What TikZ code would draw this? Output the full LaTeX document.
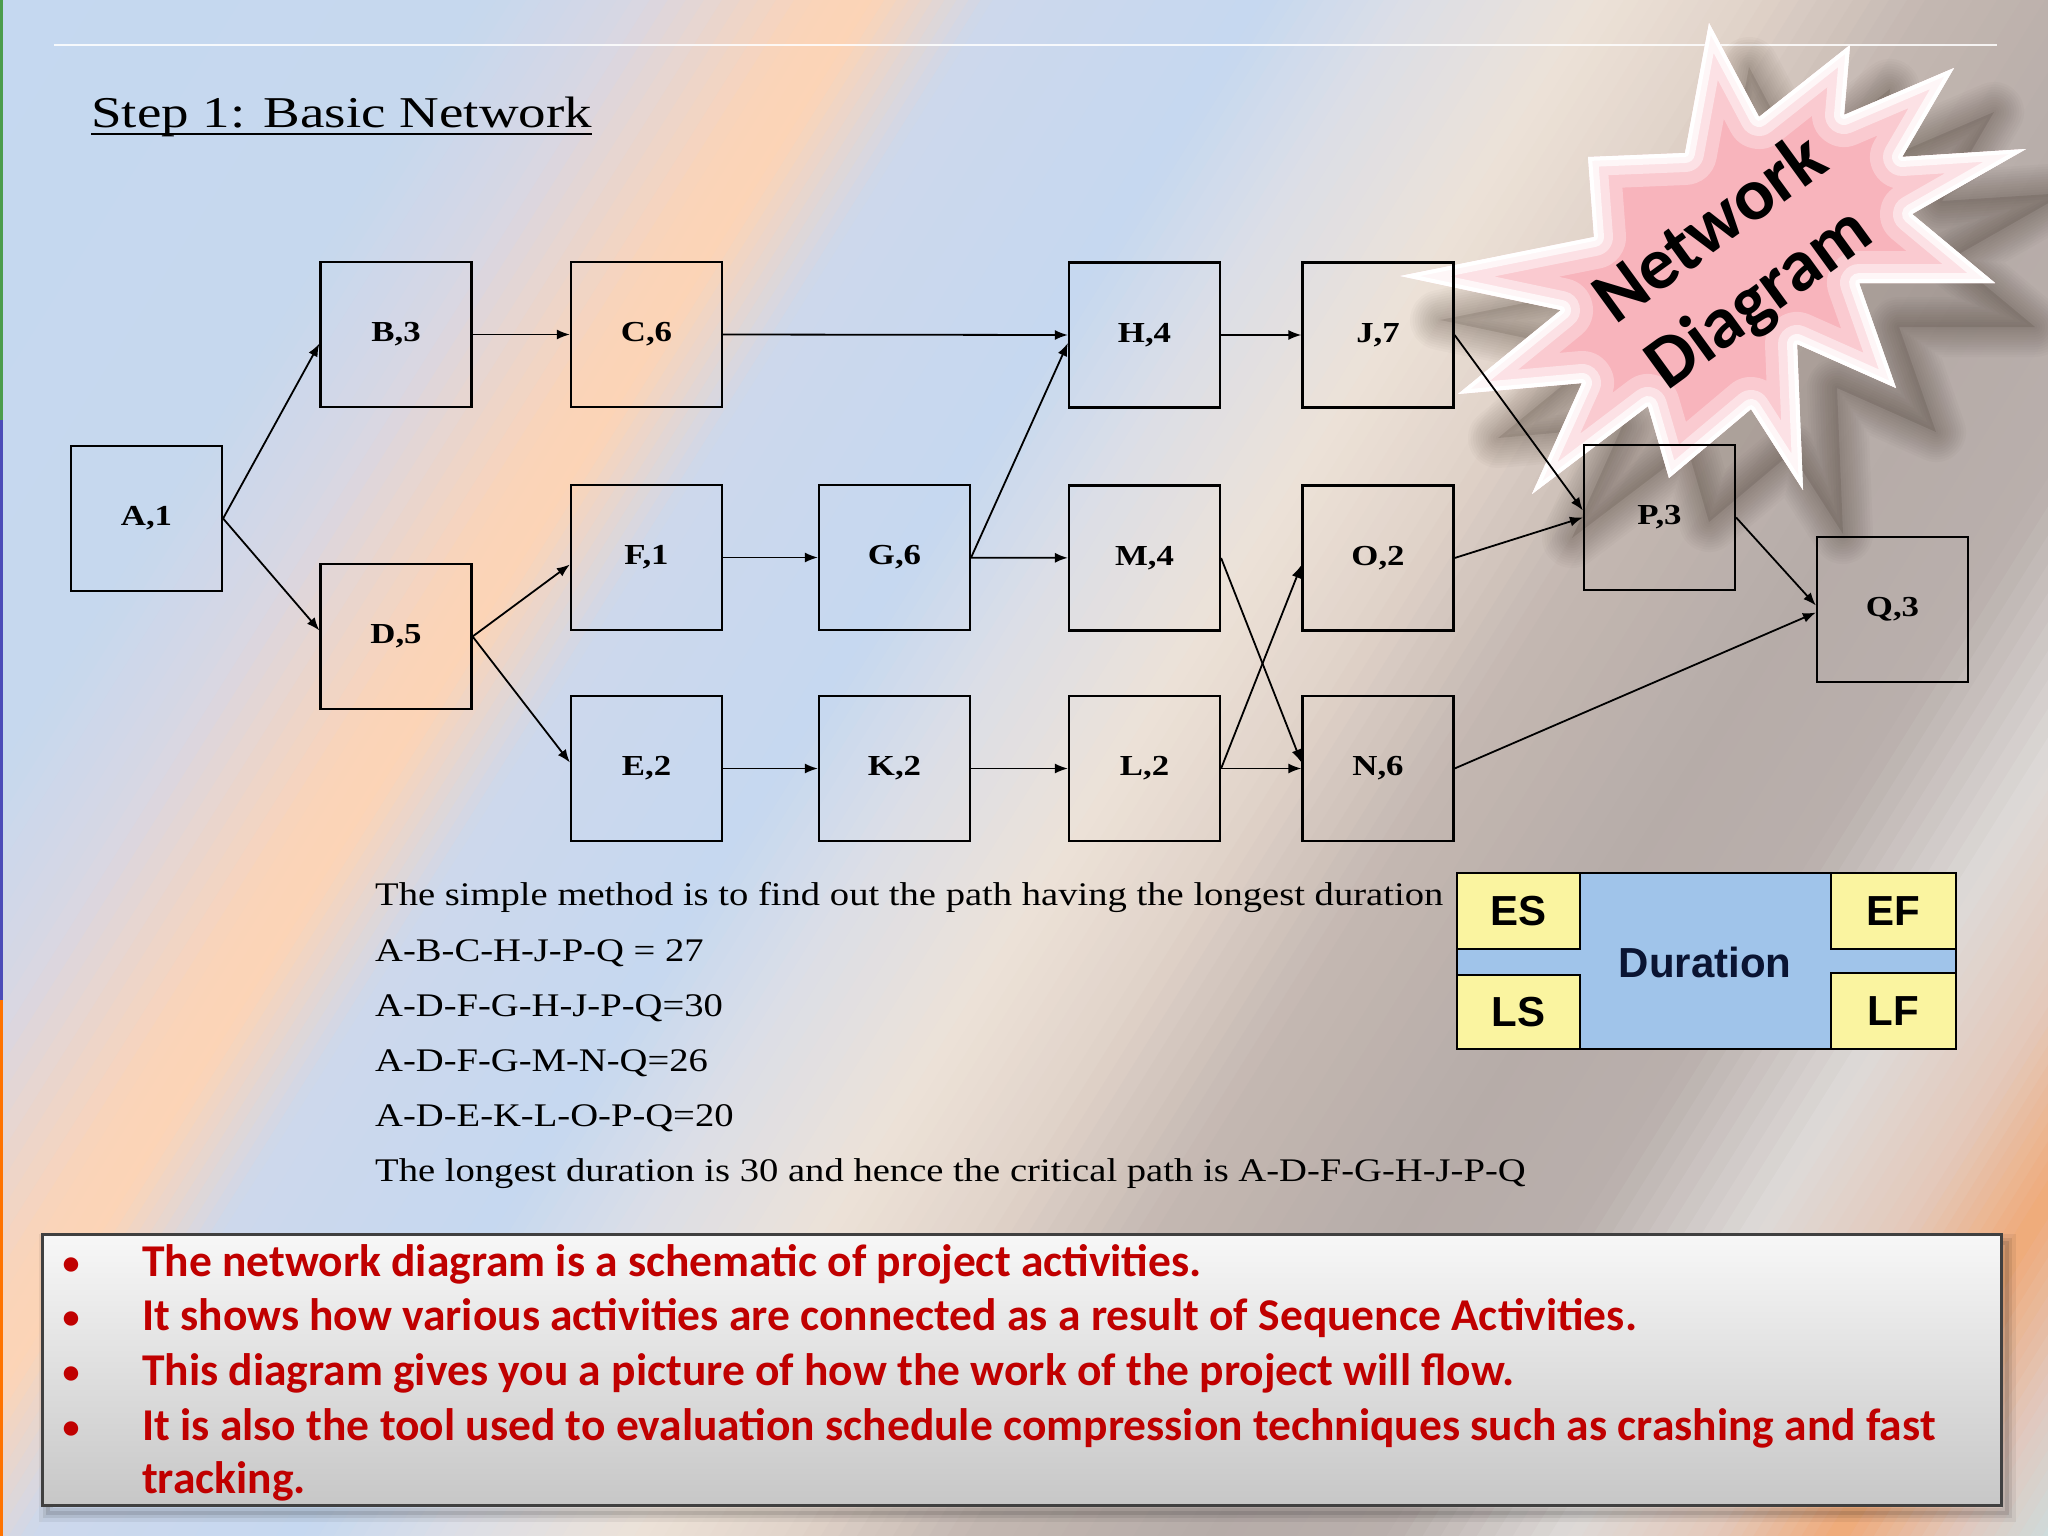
\documentclass[tikz,border=0pt]{standalone}
\usepackage{fontspec}
\setmainfont{Liberation Serif}
\newfontfamily\carl{Carlito}
\newfontfamily\lsans{Liberation Sans}
\usetikzlibrary{arrows.meta,calc}

\definecolor{s0}{RGB}{197,216,240}
\definecolor{s1}{RGB}{198,216,238}
\definecolor{s2}{RGB}{215,215,228}
\definecolor{s3}{RGB}{250,212,185}
\definecolor{s4}{RGB}{252,212,182}
\definecolor{s5}{RGB}{205,216,236}
\definecolor{s6}{RGB}{198,216,240}
\definecolor{s7}{RGB}{220,222,230}
\definecolor{s8}{RGB}{236,226,216}
\definecolor{s9}{RGB}{226,212,202}
\definecolor{s10}{RGB}{196,184,178}
\definecolor{s11}{RGB}{182,172,168}
\definecolor{s12}{RGB}{185,175,172}
\definecolor{s13}{RGB}{222,218,216}
\definecolor{s14}{RGB}{228,200,185}
\definecolor{s15}{RGB}{240,170,120}
\definecolor{s16}{RGB}{225,200,190}
\definecolor{s17}{RGB}{200,225,228}
\definecolor{starpink}{RGB}{248,180,188}
\definecolor{durblue}{RGB}{160,196,234}
\definecolor{duryel}{RGB}{250,244,160}
\definecolor{bulred}{RGB}{192,0,0}
\definecolor{durtxt}{RGB}{10,20,50}

\newcommand\bgseg[4]{%
 \foreach \k in {0,...,9}{%
  \pgfmathsetmacro\ta{(#1+(#2-#1)*\k/10)*2551}%
  \pgfmathsetmacro\tb{(#1+(#2-#1)*(\k+1)/10)*2551+4}%
  \pgfmathtruncatemacro\pc{100-10*\k-5}%
  \fill[#3!\pc!#4] ({\ta*0.848+1378},{\ta*0.53-2205}) -- ({\tb*0.848+1378},{\tb*0.53-2205}) -- ({\tb*0.848-1378},{\tb*0.53+2205}) -- ({\ta*0.848-1378},{\ta*0.53+2205}) -- cycle;
 }}

\newcommand\lbl[1]{\scalebox{1.2}[1]{#1}}
\newcommand\starshape{(1709,23) -- (1759,117) -- (1850,45) -- (1844,115) -- (1954,68) -- (1902,157) -- (2026,149) -- (1912,214) -- (1995,283) -- (1859,283) -- (1896,388) -- (1797,344) -- (1803,490) -- (1751,409) -- (1669,478) -- (1648,406) -- (1532,494) -- (1582,383) -- (1458,394) -- (1561,310) -- (1400,276) -- (1594,237) -- (1588,157) -- (1685,153) -- cycle}

\tikzset{
  box/.style={draw=black, line width=2.2pt, minimum width=151pt, minimum height=145pt, inner sep=0pt,
    font=\fontsize{29}{34}\selectfont\bfseries},
  arr/.style={line width=1.8pt, -{Latex[length=13pt,width=10pt]}},
  txtline/.style={anchor=base west, inner sep=0pt, font=\fontsize{33}{38}\selectfont},
  bul/.style={anchor=base west, inner sep=0pt, text=bulred, font=\carl\bfseries\fontsize{45.5}{54}\selectfont},
  bdot/.style={anchor=base, inner sep=0pt, text=bulred, font=\carl\bfseries\fontsize{34}{40}\selectfont},
  dcell/.style={draw=black, line width=2.5pt, fill=duryel},
  dtxt/.style={font=\lsans\bfseries\fontsize{42}{48}\selectfont, inner sep=0pt},
  startxt/.style={rotate=36, inner sep=0pt, font=\carl\bfseries\fontsize{74}{90}\selectfont}
}

\begin{document}
\begin{tikzpicture}[x=1pt,y=-1pt]
\useasboundingbox (0,0) rectangle (2048,1536);

% background
\begin{scope}
\clip (0,0) rectangle (2048,1536);
\fill[s0] (0,0) rectangle (2048,1536);
\bgseg{0.00}{0.16}{s0}{s1}
\bgseg{0.16}{0.21}{s1}{s2}
\bgseg{0.21}{0.27}{s2}{s3}
\bgseg{0.27}{0.29}{s3}{s4}
\bgseg{0.29}{0.33}{s4}{s5}
\bgseg{0.33}{0.42}{s5}{s6}
\bgseg{0.42}{0.47}{s6}{s7}
\bgseg{0.47}{0.53}{s7}{s8}
\bgseg{0.53}{0.58}{s8}{s9}
\bgseg{0.58}{0.64}{s9}{s10}
\bgseg{0.64}{0.72}{s10}{s11}
\bgseg{0.72}{0.78}{s11}{s12}
\bgseg{0.78}{0.84}{s12}{s13}
\bgseg{0.84}{0.89}{s13}{s14}
\bgseg{0.89}{0.93}{s14}{s15}
\bgseg{0.93}{0.97}{s15}{s16}
\bgseg{0.97}{1.01}{s16}{s17}
\fill[green!45!black!70] (0,0) rectangle (3,420);
\fill[blue!60!black!70] (0,420) rectangle (3,1000);
\fill[orange!90!red] (0,1000) rectangle (3,1536);
\end{scope}

% top rule
\draw[white, line width=2.5pt, opacity=0.85] (54,45) -- (1997,45);

% title
\node[anchor=base west, inner sep=0pt, font=\fontsize{44}{50}\selectfont] (title) at (91,128) {\scalebox{1.25}[1]{Step 1: Basic Network}};
\draw[line width=2.5pt] ($(title.base west)+(0,6)$) -- ($(title.base east)+(0,6)$);

% star shadow (soft, offset to lower right)
\begin{scope}[shift={(40,44)}]
\foreach \w in {60,55,50,45,40,35,30,25,20,15,10,5}{
  \draw[black!80!brown, opacity=0.022, line width=\w pt, line join=round] \starshape;
}
\fill[black!80!brown, opacity=0.12] \starshape;
\end{scope}
% star
\begin{scope}
\clip \starshape;
\fill[starpink] \starshape;
\draw[white, opacity=0.3, line width=64pt, line join=round] \starshape;
\draw[white, opacity=0.45, line width=38pt, line join=round] \starshape;
\draw[white, opacity=0.7, line width=20pt, line join=round] \starshape;
\draw[white, line width=8pt, line join=round] \starshape;
\end{scope}
\node[startxt] (st1) at (1708,226) {Network};
\node[startxt] (st2) at (1760,300) {Diagram};

% boxes
\node[box] (A) at (146.5,518.5) {\lbl{A,1}};
\node[box] (B) at (396,334.5) {\lbl{B,3}};
\node[box] (C) at (646.5,334.5) {\lbl{C,6}};
\node[box] (D) at (396,636.5) {\lbl{D,5}};
\node[box] (F) at (646.5,557.5) {\lbl{F,1}};
\node[box] (G) at (894.5,557.5) {\lbl{G,6}};
\node[box] (E) at (646.5,768.5) {\lbl{E,2}};
\node[box] (K) at (894.5,768.5) {\lbl{K,2}};
\node[box] (H) at (1144.5,335) {\lbl{H,4}};
\node[box] (J) at (1378,335) {\lbl{J,7}};
\node[box] (M) at (1144.5,558) {\lbl{M,4}};
\node[box] (O) at (1378,558) {\lbl{O,2}};
\node[box] (L) at (1144.5,768.5) {\lbl{L,2}};
\node[box] (N) at (1378,768.5) {\lbl{N,6}};
\node[box] (P) at (1659.5,517.5) {\lbl{P,3}};
\node[box] (Q) at (1892.5,609.5) {\lbl{Q,3}};

% connectors
\draw[arr] (A.east) -- ($(B.west)+(0,9)$);
\draw[arr] (A.east) -- ($(D.west)+(0,-6)$);
\draw[arr] (B) -- (C);
\draw[arr] (C.east) -- (H.west);
\draw[arr] (D.east) -- ($(F.west)+(0,7)$);
\draw[arr] (D.east) -- ($(E.west)+(0,-6)$);
\draw[arr] (F) -- (G);
\draw[arr] (G.east) -- ($(H.west)+(0,8)$);
\draw[arr] (G) -- (M);
\draw[arr] (E) -- (K);
\draw[arr] (K) -- (L);
\draw[arr] (H) -- (J);
\draw[arr] (J.east) -- ($(P.west)+(0,-7)$);
\draw[arr] (M.east) -- ($(N.west)+(0,-6)$);
\draw[arr] (L.east) -- ($(O.west)+(0,7)$);
\draw[arr] (L) -- (N);
\draw[arr] (O.east) -- (P.west);
\draw[arr] (P.east) -- ($(Q.west)+(0,-4)$);
\draw[arr] (N.east) -- ($(Q.west)+(0,3)$);

% explanation lines
\node[txtline] (t1) at (375,905) {\scalebox{1.17}[1]{The simple method is to find out the path having the longest duration}};
\node[txtline] (t2) at (375,961) {\scalebox{1.17}[1]{A-B-C-H-J-P-Q = 27}};
\node[txtline] (t3) at (375,1016) {\scalebox{1.17}[1]{A-D-F-G-H-J-P-Q=30}};
\node[txtline] (t4) at (375,1071) {\scalebox{1.17}[1]{A-D-F-G-M-N-Q=26}};
\node[txtline] (t5) at (375,1126) {\scalebox{1.17}[1]{A-D-E-K-L-O-P-Q=20}};
\node[txtline] (t6) at (375,1181) {\scalebox{1.17}[1]{The longest duration is 30 and hence the critical path is A-D-F-G-H-J-P-Q}};

% duration legend
\draw[line width=2.5pt, fill=durblue] (1457,873) rectangle (1956,1049);
\draw[dcell] (1457,873) rectangle (1580,949);
\draw[dcell] (1457,975) rectangle (1580,1049);
\draw[dcell] (1831,873) rectangle (1956,949);
\draw[dcell] (1831,973) rectangle (1956,1049);
\node[dtxt] (es) at (1518.5,911) {ES};
\node[dtxt] (ls) at (1518.5,1012) {LS};
\node[dtxt] (ef) at (1893.5,911) {EF};
\node[dtxt] (lf) at (1893.5,1011) {LF};
\node[dtxt, text=durtxt] (dur) at (1705,962) {Duration};

% bottom box
\foreach \w/\o in {18/0.06,10/0.08,4/0.10}{
  \draw[black, opacity=\o, line width=\w pt] (48,1243) rectangle (2007,1513);
}
\shade[top color=white!94!gray, bottom color=black!22] (42,1234) rectangle (2001,1505);
\draw[black!75, line width=3pt] (42,1234) rectangle (2001,1505);

\node[bdot] (b1) at (71,1274) {•};
\node[bdot] (b2) at (71,1328) {•};
\node[bdot] (b3) at (71,1383) {•};
\node[bdot] (b4) at (71,1438) {•};
\node[bul] (l1) at (142,1276) {The network diagram is a schematic of project activities.};
\node[bul] (l2) at (142,1330) {It shows how various activities are connected as a result of Sequence Activities.};
\node[bul] (l3) at (142,1385) {This diagram gives you a picture of how the work of the project will flow.};
\node[bul] (l4) at (142,1440) {It is also the tool used to evaluation schedule compression techniques such as crashing and fast};
\node[bul] (l5) at (142,1493) {tracking.};
\end{tikzpicture}
\end{document}
